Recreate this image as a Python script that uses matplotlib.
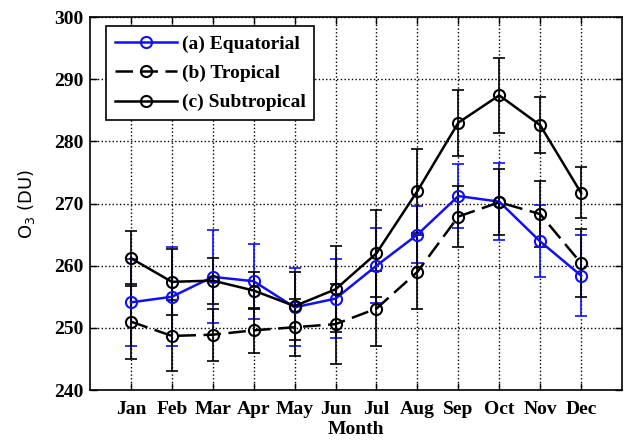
import numpy as np
import matplotlib.pyplot as plt

months = ['Jan', 'Feb', 'Mar', 'Apr', 'May', 'Jun', 'Jul', 'Aug', 'Sep', 'Oct', 'Nov', 'Dec']

# monthly mean total ozone (DU) and standard deviation for each zone
equatorial = [254.1, 255.0, 258.2, 257.5, 253.3, 254.7, 260.0, 265.0, 271.2, 270.3, 263.9, 258.4]
equatorial_sd = [7.0, 8.0, 7.5, 6.0, 6.3, 6.4, 6.0, 4.6, 5.2, 6.2, 5.8, 6.5]
tropical = [251.0, 248.7, 248.9, 249.6, 250.1, 250.6, 253.1, 259.0, 267.9, 270.2, 268.3, 260.4]
tropical_sd = [6.0, 5.7, 4.2, 3.6, 4.6, 6.4, 6.0, 6.0, 4.9, 5.3, 5.3, 5.5]
subtropical = [261.2, 257.4, 257.6, 256.0, 253.5, 256.2, 262.0, 272.0, 283.0, 287.4, 282.6, 271.7]
subtropical_sd = [4.4, 5.3, 3.7, 3.0, 5.5, 6.9, 7.0, 6.7, 5.3, 6.0, 4.5, 4.1]

serif = 'Liberation Serif'
blue = '#1010f0'

fig = plt.figure(figsize=(6.26, 4.43), dpi=100)
ax = fig.add_axes([0.1438, 0.1196, 0.8498, 0.842])

x = np.arange(1, 13)
series = [
    (equatorial, equatorial_sd, blue, '-', '(a) Equatorial'),
    (tropical, tropical_sd, 'black', (0, (7, 3)), '(b) Tropical'),
    (subtropical, subtropical_sd, 'black', '-', '(c) Subtropical'),
]
for vals, sd, col, ls, lab in series:
    ax.errorbar(x, vals, yerr=sd, fmt='none', ecolor=col, elinewidth=1.2,
                capsize=4, capthick=1.2, zorder=2)
    ax.plot(x, vals, color=col, linestyle=ls, linewidth=1.8, marker='o',
            markersize=8, markerfacecolor='none', markeredgecolor=col,
            markeredgewidth=1.5, label=lab, zorder=3)

ax.set_xlim(0, 13)
ax.set_ylim(240, 300)
ax.set_xticks(x)
ax.set_xticklabels(months)
ax.set_yticks(np.arange(240, 301, 10))
ax.grid(True, linestyle=':', color='black', linewidth=1.0)
ax.tick_params(axis='x', pad=8)
ax.tick_params(direction='in', top=True, right=True, length=5, width=1)
ax.tick_params(axis='y', pad=5)
for lbl in ax.get_xticklabels() + ax.get_yticklabels():
    lbl.set_fontfamily(serif)
    lbl.set_fontweight('bold')
    lbl.set_fontsize(14)
for sp in ax.spines.values():
    sp.set_linewidth(1.2)

ax.set_xlabel('Month', fontfamily=serif, fontweight='bold', fontsize=14, labelpad=2)
ax.set_ylabel('O$_3$ (DU)', fontfamily='DejaVu Sans', fontsize=13, labelpad=12)

leg = ax.legend(loc='upper left', bbox_to_anchor=(0.03, 0.975), fancybox=False,
                framealpha=1, edgecolor='black', handlelength=3.2, borderpad=0.45,
                labelspacing=0.6, handletextpad=0.25, borderaxespad=0,
                prop={'family': serif, 'weight': 'bold', 'size': 14})
leg.get_frame().set_linewidth(1.2)

fig.savefig('out.png', dpi=100)
